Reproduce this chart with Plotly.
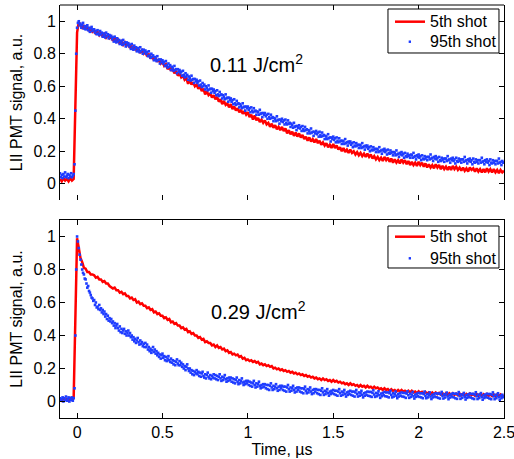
import plotly.graph_objects as go
from plotly.subplots import make_subplots

# sampling times, microseconds
time_5th = [round(-0.10 + 0.01 * i, 3) for i in range(261)]     # step 0.01
time_95th = [round(-0.10 + 0.005 * i, 3) for i in range(521)]   # step 0.005

# ---------------- Top panel, 0.11 J/cm2 ----------------
top_5th = [
    0.03, 0.015, 0.035, 0.02, 0.03, 0.015, 0.035, 0.02, 0.03, 0.45,
    0.93, 0.995, 0.975, 0.96, 0.975, 0.95, 0.965, 0.94, 0.955, 0.935,
    0.945, 0.92, 0.935, 0.915, 0.93, 0.905, 0.92, 0.9, 0.915, 0.895,
    0.905, 0.88, 0.895, 0.875, 0.885, 0.86, 0.875, 0.855, 0.87, 0.85,
    0.86, 0.835, 0.85, 0.825, 0.84, 0.815, 0.83, 0.805, 0.82, 0.8,
    0.81, 0.785, 0.8, 0.77, 0.785, 0.76, 0.775, 0.75, 0.765, 0.74,
    0.75, 0.725, 0.735, 0.705, 0.72, 0.695, 0.71, 0.68, 0.695, 0.665,
    0.68, 0.655, 0.665, 0.64, 0.65, 0.615, 0.64, 0.61, 0.625, 0.6,
    0.61, 0.585, 0.6, 0.57, 0.585, 0.55, 0.57, 0.545, 0.555, 0.53,
    0.545, 0.52, 0.535, 0.505, 0.52, 0.49, 0.51, 0.485, 0.495, 0.47,
    0.49, 0.46, 0.475, 0.45, 0.465, 0.44, 0.455, 0.43, 0.445, 0.425,
    0.44, 0.41, 0.425, 0.395, 0.42, 0.39, 0.405, 0.38, 0.395, 0.375,
    0.39, 0.365, 0.375, 0.35, 0.37, 0.345, 0.36, 0.335, 0.35, 0.33,
    0.35, 0.325, 0.34, 0.31, 0.33, 0.305, 0.32, 0.295, 0.315, 0.29,
    0.31, 0.285, 0.3, 0.275, 0.29, 0.265, 0.285, 0.26, 0.275, 0.255,
    0.275, 0.25, 0.265, 0.24, 0.255, 0.235, 0.25, 0.225, 0.24, 0.22,
    0.245, 0.22, 0.235, 0.21, 0.225, 0.2, 0.22, 0.195, 0.21, 0.19,
    0.21, 0.19, 0.2, 0.18, 0.195, 0.175, 0.19, 0.17, 0.185, 0.165,
    0.185, 0.165, 0.18, 0.155, 0.17, 0.15, 0.165, 0.145, 0.16, 0.14,
    0.165, 0.145, 0.16, 0.135, 0.155, 0.13, 0.15, 0.13, 0.145, 0.125,
    0.15, 0.13, 0.145, 0.12, 0.14, 0.115, 0.135, 0.115, 0.13, 0.11,
    0.135, 0.115, 0.13, 0.105, 0.125, 0.1, 0.12, 0.1, 0.115, 0.095,
    0.12, 0.1, 0.115, 0.09, 0.11, 0.09, 0.105, 0.085, 0.105, 0.085,
    0.11, 0.09, 0.105, 0.085, 0.1, 0.08, 0.1, 0.08, 0.095, 0.075,
    0.1, 0.085, 0.095, 0.075, 0.095, 0.075, 0.09, 0.07, 0.09, 0.07,
    0.095, 0.075, 0.09, 0.07, 0.09, 0.07, 0.085, 0.065, 0.085, 0.07,
    0.08,
]
top_95th = [
    0.065, 0.04, 0.055, 0.035, 0.06, 0.045, 0.07, 0.04, 0.05, 0.06, 0.035, 0.055, 0.045, 0.065, 0.04, 0.05, 0.06, 0.12, 0.45, 0.8,
    0.96, 0.99, 1.0, 0.975, 0.985, 0.96, 0.975, 0.99, 0.955, 0.97, 0.95, 0.965, 0.975, 0.945, 0.96, 0.935, 0.955, 0.965, 0.94, 0.95,
    0.95, 0.93, 0.94, 0.92, 0.945, 0.925, 0.915, 0.94, 0.92, 0.93, 0.905, 0.925, 0.915, 0.9, 0.93, 0.91, 0.92, 0.895, 0.915, 0.905,
    0.91, 0.89, 0.9, 0.875, 0.905, 0.885, 0.87, 0.895, 0.875, 0.885, 0.86, 0.88, 0.87, 0.855, 0.885, 0.86, 0.87, 0.845, 0.87, 0.855,
    0.865, 0.845, 0.855, 0.83, 0.86, 0.84, 0.825, 0.85, 0.83, 0.84, 0.815, 0.835, 0.825, 0.81, 0.84, 0.815, 0.825, 0.8, 0.825, 0.81,
    0.82, 0.8, 0.81, 0.785, 0.815, 0.79, 0.775, 0.8, 0.78, 0.79, 0.76, 0.78, 0.77, 0.755, 0.785, 0.76, 0.765, 0.74, 0.765, 0.75,
    0.76, 0.74, 0.75, 0.725, 0.755, 0.73, 0.715, 0.74, 0.72, 0.73, 0.7, 0.72, 0.71, 0.695, 0.725, 0.7, 0.705, 0.68, 0.705, 0.69,
    0.7, 0.68, 0.69, 0.665, 0.695, 0.67, 0.655, 0.68, 0.66, 0.67, 0.64, 0.66, 0.65, 0.635, 0.665, 0.64, 0.645, 0.62, 0.645, 0.63,
    0.64, 0.62, 0.63, 0.605, 0.635, 0.61, 0.595, 0.62, 0.6, 0.61, 0.58, 0.6, 0.59, 0.575, 0.605, 0.58, 0.585, 0.56, 0.585, 0.57,
    0.58, 0.56, 0.57, 0.545, 0.575, 0.55, 0.54, 0.565, 0.545, 0.55, 0.525, 0.545, 0.535, 0.52, 0.55, 0.525, 0.53, 0.505, 0.53, 0.515,
    0.525, 0.505, 0.515, 0.49, 0.52, 0.495, 0.485, 0.51, 0.49, 0.495, 0.47, 0.49, 0.48, 0.465, 0.495, 0.47, 0.475, 0.45, 0.475, 0.465,
    0.475, 0.455, 0.465, 0.44, 0.47, 0.45, 0.44, 0.465, 0.445, 0.45, 0.425, 0.445, 0.44, 0.425, 0.455, 0.43, 0.435, 0.41, 0.435, 0.425,
    0.435, 0.415, 0.425, 0.4, 0.43, 0.41, 0.4, 0.425, 0.405, 0.41, 0.385, 0.405, 0.4, 0.385, 0.415, 0.39, 0.395, 0.37, 0.395, 0.385,
    0.4, 0.38, 0.39, 0.365, 0.395, 0.375, 0.365, 0.39, 0.37, 0.375, 0.35, 0.37, 0.36, 0.345, 0.375, 0.35, 0.355, 0.33, 0.355, 0.345,
    0.36, 0.34, 0.35, 0.325, 0.355, 0.335, 0.325, 0.35, 0.33, 0.335, 0.31, 0.33, 0.325, 0.31, 0.34, 0.315, 0.32, 0.295, 0.32, 0.31,
    0.325, 0.305, 0.315, 0.29, 0.32, 0.3, 0.29, 0.315, 0.295, 0.3, 0.275, 0.295, 0.29, 0.275, 0.305, 0.28, 0.285, 0.26, 0.285, 0.275,
    0.29, 0.27, 0.28, 0.255, 0.285, 0.265, 0.255, 0.28, 0.26, 0.265, 0.245, 0.265, 0.26, 0.245, 0.275, 0.25, 0.255, 0.235, 0.26, 0.25,
    0.26, 0.24, 0.25, 0.225, 0.255, 0.235, 0.23, 0.25, 0.235, 0.24, 0.22, 0.24, 0.235, 0.22, 0.25, 0.225, 0.23, 0.21, 0.235, 0.225,
    0.235, 0.215, 0.225, 0.2, 0.23, 0.21, 0.205, 0.225, 0.21, 0.215, 0.195, 0.215, 0.21, 0.195, 0.225, 0.2, 0.205, 0.185, 0.21, 0.2,
    0.215, 0.195, 0.205, 0.18, 0.21, 0.19, 0.185, 0.205, 0.19, 0.195, 0.175, 0.195, 0.19, 0.175, 0.205, 0.18, 0.185, 0.165, 0.19, 0.18,
    0.195, 0.175, 0.185, 0.16, 0.19, 0.17, 0.165, 0.185, 0.17, 0.175, 0.16, 0.18, 0.175, 0.16, 0.19, 0.165, 0.17, 0.15, 0.175, 0.165,
    0.18, 0.16, 0.17, 0.145, 0.175, 0.155, 0.15, 0.17, 0.155, 0.165, 0.145, 0.165, 0.165, 0.15, 0.18, 0.155, 0.16, 0.14, 0.165, 0.155,
    0.17, 0.15, 0.16, 0.135, 0.165, 0.145, 0.14, 0.16, 0.145, 0.155, 0.135, 0.155, 0.155, 0.14, 0.17, 0.145, 0.15, 0.13, 0.155, 0.145,
    0.16, 0.14, 0.15, 0.125, 0.16, 0.14, 0.135, 0.155, 0.14, 0.15, 0.13, 0.15, 0.15, 0.135, 0.165, 0.14, 0.145, 0.125, 0.15, 0.14,
    0.155, 0.135, 0.145, 0.12, 0.155, 0.135, 0.13, 0.15, 0.135, 0.145, 0.125, 0.145, 0.145, 0.13, 0.16, 0.135, 0.14, 0.12, 0.145, 0.135,
    0.15, 0.13, 0.14, 0.115, 0.15, 0.13, 0.125, 0.145, 0.13, 0.14, 0.12, 0.14, 0.14, 0.125, 0.155, 0.13, 0.135, 0.115, 0.14, 0.13,
    0.13,
]

# ---------------- Bottom panel, 0.29 J/cm2 ----------------
bottom_5th = [
    0.015, 0.005, 0.02, 0.01, 0.015, 0.005, 0.02, 0.01, 0.02, 0.5,
    0.99, 0.93, 0.87, 0.845, 0.81, 0.805, 0.785, 0.785, 0.77, 0.77,
    0.765, 0.75, 0.755, 0.74, 0.74, 0.725, 0.73, 0.715, 0.715, 0.7,
    0.695, 0.685, 0.69, 0.675, 0.675, 0.66, 0.665, 0.65, 0.655, 0.64,
    0.64, 0.625, 0.63, 0.615, 0.62, 0.6, 0.605, 0.59, 0.595, 0.58,
    0.58, 0.565, 0.57, 0.555, 0.56, 0.54, 0.545, 0.53, 0.535, 0.52,
    0.52, 0.505, 0.51, 0.495, 0.5, 0.48, 0.485, 0.47, 0.475, 0.46,
    0.46, 0.445, 0.45, 0.435, 0.44, 0.42, 0.425, 0.41, 0.415, 0.4,
    0.4, 0.385, 0.39, 0.375, 0.38, 0.36, 0.365, 0.355, 0.355, 0.34,
    0.345, 0.33, 0.34, 0.325, 0.33, 0.315, 0.32, 0.305, 0.31, 0.295,
    0.3, 0.285, 0.29, 0.28, 0.285, 0.27, 0.275, 0.26, 0.265, 0.25,
    0.255, 0.245, 0.25, 0.24, 0.245, 0.235, 0.24, 0.225, 0.23, 0.22,
    0.225, 0.215, 0.22, 0.21, 0.215, 0.2, 0.205, 0.195, 0.2, 0.19,
    0.195, 0.185, 0.19, 0.18, 0.185, 0.175, 0.18, 0.17, 0.175, 0.165,
    0.17, 0.16, 0.165, 0.155, 0.16, 0.15, 0.155, 0.145, 0.15, 0.14,
    0.145, 0.135, 0.14, 0.13, 0.14, 0.13, 0.135, 0.125, 0.13, 0.12,
    0.13, 0.12, 0.125, 0.115, 0.12, 0.11, 0.115, 0.105, 0.11, 0.1,
    0.11, 0.1, 0.105, 0.095, 0.1, 0.09, 0.1, 0.09, 0.095, 0.085,
    0.095, 0.085, 0.09, 0.08, 0.09, 0.08, 0.085, 0.075, 0.08, 0.07,
    0.08, 0.07, 0.075, 0.065, 0.075, 0.065, 0.07, 0.06, 0.07, 0.06,
    0.07, 0.06, 0.065, 0.055, 0.065, 0.055, 0.065, 0.055, 0.06, 0.05,
    0.062, 0.052, 0.058, 0.048, 0.058, 0.048, 0.055, 0.045, 0.055, 0.045,
    0.055, 0.045, 0.052, 0.042, 0.05, 0.04, 0.05, 0.04, 0.05, 0.04,
    0.05, 0.04, 0.048, 0.038, 0.048, 0.038, 0.046, 0.036, 0.046, 0.036,
    0.048, 0.038, 0.045, 0.035, 0.045, 0.035, 0.044, 0.034, 0.044, 0.034,
    0.045, 0.035, 0.043, 0.033, 0.043, 0.033, 0.042, 0.032, 0.042, 0.032,
    0.038,
]
bottom_95th = [
    0.02, 0.005, 0.015, 0.025, 0.0, 0.02, 0.01, 0.03, 0.005, 0.015, 0.025, 0.0, 0.02, 0.01, 0.025, 0.005, 0.02, 0.08, 0.4, 0.8,
    1.0, 0.97, 0.93, 0.89, 0.86, 0.83, 0.8, 0.78, 0.77, 0.745, 0.74, 0.715, 0.69, 0.7, 0.67, 0.66, 0.645, 0.63, 0.625, 0.61,
    0.615, 0.585, 0.6, 0.57, 0.575, 0.56, 0.585, 0.555, 0.565, 0.54, 0.555, 0.53, 0.545, 0.515, 0.53, 0.5, 0.52, 0.49, 0.505, 0.485,
    0.5, 0.475, 0.485, 0.46, 0.475, 0.445, 0.46, 0.47, 0.445, 0.43, 0.455, 0.42, 0.44, 0.415, 0.43, 0.44, 0.41, 0.425, 0.4, 0.415,
    0.43, 0.4, 0.415, 0.39, 0.4, 0.375, 0.39, 0.365, 0.38, 0.355, 0.37, 0.385, 0.36, 0.345, 0.37, 0.35, 0.36, 0.335, 0.35, 0.33,
    0.355, 0.33, 0.345, 0.315, 0.33, 0.305, 0.32, 0.295, 0.31, 0.33, 0.3, 0.315, 0.29, 0.305, 0.28, 0.295, 0.27, 0.285, 0.26, 0.28,
    0.29, 0.265, 0.275, 0.25, 0.27, 0.245, 0.26, 0.275, 0.25, 0.24, 0.26, 0.235, 0.25, 0.225, 0.245, 0.22, 0.24, 0.255, 0.23, 0.22,
    0.245, 0.22, 0.235, 0.21, 0.225, 0.2, 0.215, 0.19, 0.21, 0.225, 0.2, 0.185, 0.2, 0.175, 0.19, 0.165, 0.185, 0.16, 0.18, 0.17,
    0.19, 0.165, 0.18, 0.155, 0.175, 0.15, 0.17, 0.18, 0.155, 0.145, 0.165, 0.14, 0.16, 0.175, 0.15, 0.14, 0.16, 0.135, 0.155, 0.145,
    0.165, 0.14, 0.16, 0.135, 0.155, 0.13, 0.15, 0.165, 0.14, 0.125, 0.15, 0.13, 0.145, 0.16, 0.135, 0.12, 0.14, 0.125, 0.145, 0.13,
    0.145, 0.12, 0.14, 0.115, 0.135, 0.11, 0.13, 0.145, 0.12, 0.105, 0.13, 0.11, 0.125, 0.14, 0.115, 0.1, 0.12, 0.105, 0.125, 0.11,
    0.125, 0.1, 0.12, 0.095, 0.115, 0.09, 0.11, 0.125, 0.1, 0.085, 0.11, 0.09, 0.105, 0.12, 0.095, 0.08, 0.1, 0.085, 0.105, 0.09,
    0.105, 0.08, 0.1, 0.075, 0.1, 0.07, 0.095, 0.11, 0.085, 0.07, 0.095, 0.075, 0.09, 0.105, 0.08, 0.065, 0.09, 0.07, 0.095, 0.08,
    0.095, 0.07, 0.09, 0.065, 0.09, 0.06, 0.085, 0.1, 0.075, 0.06, 0.085, 0.065, 0.08, 0.095, 0.07, 0.055, 0.08, 0.06, 0.085, 0.07,
    0.085, 0.06, 0.08, 0.055, 0.08, 0.05, 0.075, 0.09, 0.065, 0.05, 0.075, 0.055, 0.07, 0.085, 0.06, 0.045, 0.07, 0.05, 0.075, 0.06,
    0.075, 0.05, 0.07, 0.045, 0.07, 0.04, 0.065, 0.08, 0.055, 0.04, 0.065, 0.045, 0.06, 0.075, 0.05, 0.035, 0.06, 0.045, 0.065, 0.05,
    0.07, 0.045, 0.065, 0.04, 0.065, 0.035, 0.06, 0.075, 0.05, 0.035, 0.06, 0.04, 0.055, 0.07, 0.045, 0.03, 0.055, 0.04, 0.06, 0.045,
    0.065, 0.04, 0.06, 0.035, 0.06, 0.03, 0.055, 0.07, 0.045, 0.03, 0.055, 0.035, 0.05, 0.065, 0.04, 0.025, 0.05, 0.035, 0.055, 0.04,
    0.06, 0.035, 0.058, 0.032, 0.058, 0.028, 0.052, 0.068, 0.042, 0.028, 0.052, 0.032, 0.048, 0.062, 0.038, 0.022, 0.048, 0.032, 0.052, 0.038,
    0.058, 0.032, 0.055, 0.03, 0.055, 0.025, 0.05, 0.065, 0.04, 0.025, 0.05, 0.03, 0.045, 0.06, 0.035, 0.02, 0.045, 0.03, 0.05, 0.035,
    0.055, 0.03, 0.052, 0.028, 0.052, 0.022, 0.048, 0.062, 0.038, 0.022, 0.048, 0.028, 0.042, 0.058, 0.032, 0.018, 0.042, 0.028, 0.048, 0.032,
    0.052, 0.028, 0.05, 0.025, 0.05, 0.02, 0.045, 0.06, 0.035, 0.02, 0.045, 0.025, 0.04, 0.055, 0.03, 0.015, 0.04, 0.025, 0.045, 0.03,
    0.05, 0.026, 0.048, 0.022, 0.048, 0.018, 0.044, 0.058, 0.034, 0.018, 0.044, 0.024, 0.04, 0.054, 0.03, 0.014, 0.04, 0.024, 0.044, 0.03,
    0.05, 0.025, 0.047, 0.02, 0.047, 0.016, 0.043, 0.057, 0.033, 0.016, 0.043, 0.022, 0.038, 0.052, 0.028, 0.012, 0.038, 0.022, 0.043, 0.028,
    0.048, 0.024, 0.046, 0.019, 0.046, 0.015, 0.042, 0.056, 0.032, 0.015, 0.042, 0.021, 0.037, 0.051, 0.027, 0.011, 0.037, 0.021, 0.042, 0.027,
    0.047, 0.023, 0.045, 0.018, 0.045, 0.014, 0.041, 0.055, 0.031, 0.014, 0.041, 0.02, 0.036, 0.05, 0.026, 0.01, 0.036, 0.02, 0.041, 0.026,
    0.03,
]

x_ticks = [0, 0.5, 1, 1.5, 2, 2.5]
x_tick_labels = ["0", "0.5", "1", "1.5", "2", "2.5"]
y_ticks = [0, 0.2, 0.4, 0.6, 0.8, 1]
y_tick_labels = ["0", "0.2", "0.4", "0.6", "0.8", "1"]
series_names = ["5th shot", "95th shot"]
fluences = ["0.11 J/cm<sup>2</sup>", "0.29 J/cm<sup>2</sup>"]
y_title = "LII PMT signal, a.u."
x_title = "Time, µs"

RED = "#ff0000"
BLUE = "#1e3cff"
FONT = "Liberation Sans, Arial, Helvetica, sans-serif"

fig = make_subplots(rows=2, cols=1, vertical_spacing=0.05)

panels = [(top_5th, top_95th), (bottom_5th, bottom_95th)]
for i, (s5, s95) in enumerate(panels, start=1):
    fig.add_trace(go.Scatter(x=time_5th, y=s5, mode="lines", name=series_names[0],
                             line=dict(color=RED, width=2.5), showlegend=False),
                  row=i, col=1)
    fig.add_trace(go.Scatter(x=time_95th, y=s95, mode="markers", name=series_names[1],
                             marker=dict(color=BLUE, size=2.6, symbol="square",
                                         line=dict(width=0)), showlegend=False),
                  row=i, col=1)

axis_common = dict(range=[-0.1, 2.5], tickvals=x_ticks, ticktext=x_tick_labels,
                   ticks="inside", ticklen=5, tickcolor="black", tickwidth=1,
                   showgrid=False, zeroline=False, linecolor="black", linewidth=1,
                   automargin=False, tickfont=dict(size=16), ticklabeloverflow="allow")
fig.update_xaxes(**axis_common, showline=False, mirror="ticks", showticklabels=False,
                 row=1, col=1)
fig.update_xaxes(**axis_common, showline=True, mirror="ticks",
                 title=dict(text=x_title, standoff=2, font=dict(size=16)), row=2, col=1)

for r in (1, 2):
    fig.update_yaxes(range=[-0.1, 1.1], tickvals=y_ticks, ticktext=y_tick_labels,
                     ticks="inside", ticklen=5, tickcolor="black", showgrid=False,
                     zeroline=False, showline=True, mirror="ticks", linecolor="black",
                     linewidth=1, automargin=False, tickfont=dict(size=16),
                     title=dict(text=y_title, standoff=6, font=dict(size=16)),
                     row=r, col=1)

fig.update_layout(
    template="none",
    width=514, height=459,
    margin=dict(l=60, r=10, t=5, b=41, autoexpand=False),
    paper_bgcolor="white", plot_bgcolor="white",
    font=dict(family=FONT, size=16, color="black"),
    yaxis=dict(domain=[0.5278, 1.0]),
    yaxis2=dict(domain=[0.0, 0.4794]),
    showlegend=False,
)

# top border of the upper panel (its bottom edge has no line in the original)
fig.add_shape(type="line", xref="x domain", yref="y domain", x0=0, x1=1, y0=1, y1=1,
              line=dict(color="black", width=1))

# boxed legends (one per panel), in paper coordinates
legend_boxes = [  # (box y0, box y1, line-row y, dot-row y)
    (0.8838, 0.9903, 0.9596, 0.9111),
    (0.3632, 0.4649, 0.4390, 0.3867),
]
for y0, y1, y_line, y_dot in legend_boxes:
    fig.add_shape(type="rect", xref="paper", yref="paper", x0=0.7387, x1=0.9887,
                  y0=y0, y1=y1, line=dict(color="black", width=1), fillcolor="white",
                  layer="above")
    fig.add_shape(type="line", xref="paper", yref="paper", x0=0.7545, x1=0.8221,
                  y0=y_line, y1=y_line, line=dict(color=RED, width=2.5), layer="above")
    fig.add_shape(type="rect", xref="paper", yref="paper", x0=0.7853, x1=0.7905,
                  y0=y_dot - 0.003, y1=y_dot + 0.003, line=dict(width=0),
                  fillcolor=BLUE, layer="above")
    fig.add_annotation(text=series_names[0], xref="paper", yref="paper", x=0.8288,
                       y=y_line, xanchor="left", yanchor="middle", showarrow=False,
                       font=dict(size=16))
    fig.add_annotation(text=series_names[1], xref="paper", yref="paper", x=0.8288,
                       y=y_dot, xanchor="left", yanchor="middle", showarrow=False,
                       font=dict(size=16))

fig.add_annotation(text=fluences[0], xref="x", yref="y", x=1.05, y=0.74,
                   showarrow=False, font=dict(size=20))
fig.add_annotation(text=fluences[1], xref="x2", yref="y2", x=1.06, y=0.55,
                   showarrow=False, font=dict(size=20))

fig.write_html("out.html",
               config={"displayModeBar": False, "staticPlot": True},
               post_script="document.body.style.margin='0';"
                           "document.body.style.overflow='hidden';")
